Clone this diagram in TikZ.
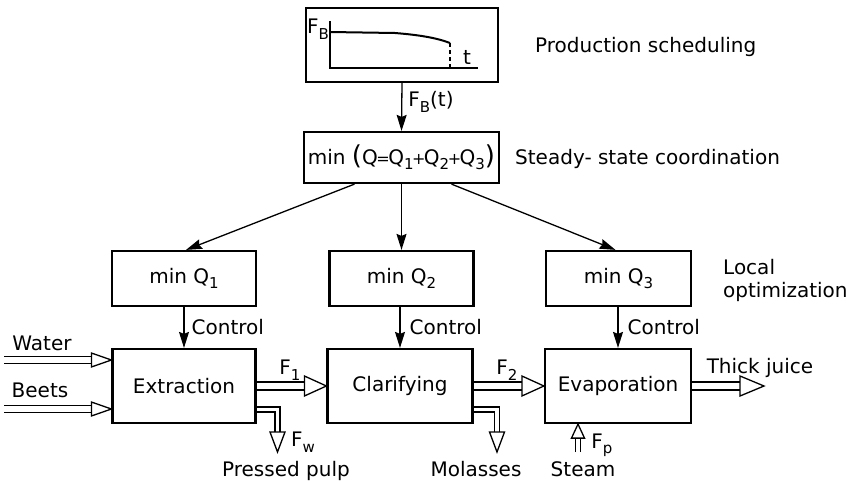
\documentclass[tikz,border=0pt]{standalone}
\usepackage{fontspec}
\setmainfont{DejaVu Sans}
\usetikzlibrary{arrows.meta,calc}

% lowered index, small operators and tall parentheses
\newcommand\lowidx[1]{\raisebox{-0.5ex}{\fontsize{15}{15}\selectfont #1}}
\newcommand\smop[1]{\kern-1.5pt{\fontsize{16}{16}\selectfont #1}\kern-1.5pt}
\newcommand\tallparen[1]{{\fontsize{26}{26}\selectfont #1}}

% hollow material-flow arrow pointing right: start, tip, half shaft gap, head length, head half width
\newcommand\hflow[5]{%
  \draw[flow] ($(#1)+(0,-#3)$) -- ($(#2)+(-#4,-#3)$);
  \draw[flow] ($(#1)+(0,#3)$) -- ($(#2)+(-#4,#3)$);
  \draw[flow] ($(#2)+(-#4,-#5)$) -- (#2) -- ($(#2)+(-#4,#5)$) -- cycle;}
% hollow outflow leaving a box sideways and turning down: source point, tip
\newcommand\dflow[2]{%
  \draw[flow] (#1) -| ($(#2)+(2.5,-20)$);
  \draw[flow] ($(#1)+(0,5)$) -| ($(#2)+(-2.5,-20)$);
  \draw[flow] ($(#2)+(-7.5,-20)$) -- (#2) -- ($(#2)+(7.5,-20)$) -- cycle;}

\begin{document}
\begin{tikzpicture}[x=1pt,y=-1pt,
  every node/.style={font=\fontsize{20}{24}\selectfont},
  box/.style={draw, line width=2.2pt, inner sep=0pt},
  conn/.style={line width=1.3pt, -{Stealth[length=16pt,width=10pt,inset=2pt]}},
  flow/.style={line width=1.3pt, line join=miter},
  lbl/.style={inner sep=0pt},
]
\useasboundingbox (0,0) rectangle (849,480);

% ---- production scheduling box with sketch of F_B(t)
\node[box, minimum width=192pt, minimum height=74pt] (sched) at (402,45) {};
\draw[line width=1.2pt] (330,21) -- (330,68) -- (478,68);
\draw[line width=2pt] (330,32) -- (395,33) .. controls (420,35) and (437,38) .. (450,43);
\draw[line width=1.1pt, dash pattern=on 4pt off 3pt] (450,43) -- (450,68);
\node[lbl] (fbaxis) at (318,29) {F\lowidx{B}};
\node[lbl] (taxis) at (467,57) {t};

% ---- coordination level
\node[box, minimum width=195pt, minimum height=51pt] (coord) at (401.5,157.5)
  {min \tallparen{(}Q\smop{=}Q\lowidx{1}\smop{+}Q\lowidx{2}\smop{+}Q\lowidx{3}\tallparen{)}};
\draw[conn] (sched.south) -- (coord.north)
  node[lbl, midway, anchor=west, xshift=6pt, yshift=5pt] (fbt) {F\lowidx{B}(t)};

% ---- local optimizers
\node[box, minimum width=144pt, minimum height=55pt] (q1) at (184,278.5) {min Q\lowidx{1}};
\node[box, minimum width=144pt, minimum height=55pt] (q2) at (401.5,278.5) {min Q\lowidx{2}};
\node[box, minimum width=145pt, minimum height=55pt] (q3) at (618.5,278.5) {min Q\lowidx{3}};

\draw[conn] ($(coord.south)+(-47,0)$) -- ($(q1.north)+(2,0)$);
\draw[conn] (coord.south) -- (q2.north);
\draw[conn] ($(coord.south)+(50,0)$) -- ($(q3.north)+(-3,0)$);

% ---- process units
\node[box, minimum width=143pt, minimum height=74pt] (ext) at (184,386) {Extraction};
\node[box, minimum width=145pt, minimum height=74pt] (clar) at (400,386) {Clarifying};
\node[box, minimum width=146pt, minimum height=74pt] (evap) at (618,386) {Evaporation};

\draw[conn] (q1.south) -- (ext.north) node[lbl, midway, anchor=west, xshift=7pt] (c1) {Control};
\draw[conn] (q2.south -| clar.north) -- (clar.north) node[lbl, midway, anchor=west, xshift=9pt] (c2) {Control};
\draw[conn] (q3.south -| evap.north) -- (evap.north) node[lbl, midway, anchor=west, xshift=9pt] (c3) {Control};

% ---- material flows
\coordinate (waterin) at (4,360);
\coordinate (extw1) at ($(ext.west)+(0,-26)$);
\coordinate (beetsin) at (4,409);
\coordinate (extw2) at ($(ext.west)+(0,23)$);
\hflow{waterin}{extw1}{3.5}{20}{7}
\hflow{beetsin}{extw2}{3.5}{20}{7}
\hflow{ext.east}{clar.west}{4}{22}{10}
\hflow{clar.east}{evap.west}{4}{22}{10}
\coordinate (juiceout) at (764,386);
\hflow{evap.east}{juiceout}{4}{24}{10}

\coordinate (pulpsrc) at ($(ext.east)+(0,21)$);
\coordinate (pulpout) at (277.5,452);
\dflow{pulpsrc}{pulpout}
\coordinate (molsrc) at ($(clar.east)+(0,21)$);
\coordinate (molout) at (497,452);
\dflow{molsrc}{molout}

\coordinate (steamtip) at ($(evap.south)+(-40,0)$);
\coordinate (steamin) at (578,452);
\draw[flow] ($(steamin)+(-2.5,0)$) -- ($(steamtip)+(-2.5,14)$);
\draw[flow] ($(steamin)+(2.5,0)$) -- ($(steamtip)+(2.5,14)$);
\draw[flow] ($(steamtip)+(-6.5,14)$) -- (steamtip) -- ($(steamtip)+(6.5,14)$) -- cycle;

% ---- flow labels
\node[lbl] (water) at (42,343) {Water};
\node[lbl] (beets) at (40,390) {Beets};
\node[lbl] (f1) at (290,370) {F\lowidx{1}};
\node[lbl] (f2) at (507,370) {F\lowidx{2}};
\node[lbl] (fw) at (303,442) {F\lowidx{w}};
\node[lbl] (fp) at (602,445) {F\lowidx{p}};
\node[lbl] (juice) at (760,368) {Thick juice};
\node[lbl, anchor=base] (pulp) at (286,476) {Pressed pulp};
\node[lbl, anchor=base] (molasses) at (476,476) {Molasses};
\node[lbl, anchor=base] (steam) at (583,476) {Steam};

% ---- level names
\node[lbl, anchor=west] (lev1) at (535,47) {Production scheduling};
\node[lbl, anchor=west] (lev2) at (515,159) {Steady- state coordination};
\node[lbl, anchor=west] (lev3a) at (723,267) {Local};
\node[lbl, anchor=west] (lev3b) at (723,292) {optimization};
\end{tikzpicture}
\end{document}
